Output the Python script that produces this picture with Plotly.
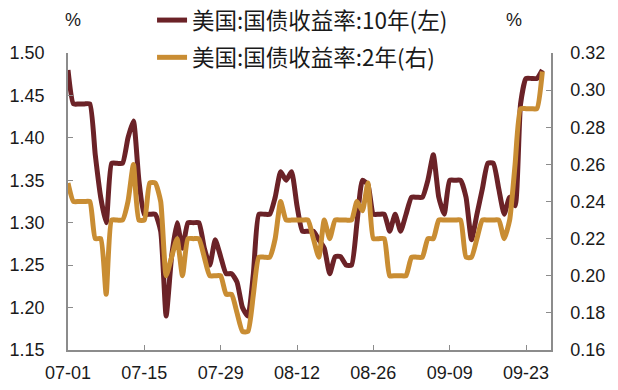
import pandas as pd
import plotly.graph_objects as go

start_date = "2021-07-01"
yield_10y = [1.48, 1.44, 1.44, 1.44, 1.44, 1.38, 1.33, 1.30, 1.37, 1.37,
             1.37, 1.40, 1.42, 1.35, 1.31, 1.31, 1.31, 1.29, 1.19, 1.26,
             1.30, 1.27, 1.30, 1.30, 1.30, 1.27, 1.25, 1.28, 1.26, 1.24,
             1.24, 1.23, 1.20, 1.19, 1.24, 1.31, 1.31, 1.31, 1.33, 1.36,
             1.35, 1.36, 1.32, 1.29, 1.29, 1.29, 1.28, 1.27, 1.24, 1.26,
             1.26, 1.25, 1.25, 1.30, 1.35, 1.345, 1.31, 1.31, 1.31, 1.29,
             1.31, 1.29, 1.31, 1.33, 1.33, 1.33, 1.35, 1.38, 1.33, 1.31,
             1.35, 1.35, 1.35, 1.33, 1.28, 1.31, 1.34, 1.37, 1.37, 1.34,
             1.31, 1.33, 1.32, 1.44, 1.47, 1.47, 1.47, 1.48]
yield_2y = [0.25, 0.24, 0.24, 0.24, 0.24, 0.22, 0.22, 0.19, 0.23, 0.23,
            0.23, 0.24, 0.26, 0.23, 0.23, 0.25, 0.25, 0.24, 0.20, 0.21,
            0.22, 0.20, 0.22, 0.22, 0.22, 0.21, 0.20, 0.20, 0.20, 0.19,
            0.19, 0.18, 0.17, 0.17, 0.19, 0.21, 0.21, 0.21, 0.22, 0.24,
            0.23, 0.23, 0.23, 0.23, 0.23, 0.22, 0.21, 0.23, 0.22, 0.23,
            0.23, 0.23, 0.23, 0.24, 0.235, 0.25, 0.22, 0.22, 0.22, 0.20,
            0.20, 0.20, 0.20, 0.21, 0.21, 0.21, 0.22, 0.22, 0.23, 0.23,
            0.23, 0.23, 0.23, 0.21, 0.21, 0.22, 0.23, 0.23, 0.23, 0.23,
            0.22, 0.23, 0.26, 0.29, 0.29, 0.29, 0.29, 0.31]
tick_dates = ["2021-07-01", "2021-07-15", "2021-07-29", "2021-08-12",
              "2021-08-26", "2021-09-09", "2021-09-23"]
tick_labels = ["07-01", "07-15", "07-29", "08-12", "08-26", "09-09", "09-23"]
left_ticks = [1.15, 1.20, 1.25, 1.30, 1.35, 1.40, 1.45, 1.50]
right_ticks = [0.16, 0.18, 0.20, 0.22, 0.24, 0.26, 0.28, 0.30, 0.32]
name_10y = "美国:国债收益率:10年(左)"
name_2y = "美国:国债收益率:2年(右)"

dates = pd.date_range(start_date, periods=len(yield_10y), freq="D")

FONT = "Liberation Sans, Arial, Noto Sans CJK SC, sans-serif"
AXIS_COLOR = "#8c8c8c"

fig = go.Figure()
fig.add_trace(go.Scatter(
    x=dates, y=yield_10y, name=name_10y, mode="lines",
    line=dict(color="#6B2227", width=5, shape="spline", smoothing=0.5),
    legendgroup="a", yaxis="y"))
fig.add_trace(go.Scatter(
    x=dates, y=yield_2y, name=name_2y, mode="lines",
    line=dict(color="#C98D33", width=5, shape="spline", smoothing=0.5),
    legendgroup="b", yaxis="y2"))

fig.update_layout(
    width=618, height=390,
    margin=dict(l=68, r=67, t=53, b=40, autoexpand=False),
    paper_bgcolor="white", plot_bgcolor="white",
    font=dict(family=FONT, size=18, color="#1a1a1a"),
    showlegend=True,
    legend=dict(
        x=0.174, y=1.182, xanchor="left", yanchor="top",
        bgcolor="rgba(0,0,0,0)", traceorder="grouped", tracegroupgap=5,
        font=dict(family="Noto Sans CJK SC, Liberation Sans, sans-serif", size=22.5, color="#1a1a1a"),
    ),
    xaxis=dict(
        type="date",
        range=["2021-07-01", "2021-09-27 14:00"],
        tickvals=tick_dates, ticktext=tick_labels,
        showline=True, linecolor=AXIS_COLOR, linewidth=1.5,
        ticks="inside", ticklen=5, tickcolor=AXIS_COLOR,
        showgrid=False, zeroline=False, automargin=False,
        ticklabelstandoff=6,
    ),
    yaxis=dict(
        range=[1.15, 1.50], tickvals=left_ticks, tickformat=".2f",
        showline=True, linecolor=AXIS_COLOR, linewidth=1.5,
        ticks="inside", ticklen=5, tickcolor=AXIS_COLOR,
        showgrid=False, zeroline=False, automargin=False,
        ticklabelstandoff=18,
    ),
    yaxis2=dict(
        range=[0.16, 0.32], tickvals=right_ticks, tickformat=".2f",
        overlaying="y", side="right",
        showline=True, linecolor=AXIS_COLOR, linewidth=1.5,
        ticks="inside", ticklen=5, tickcolor=AXIS_COLOR,
        showgrid=False, zeroline=False, automargin=False,
        ticklabelstandoff=14,
    ),
    annotations=[
        dict(text="%", xref="paper", yref="paper", x=0.0104, y=1.111,
             showarrow=False, xanchor="center", yanchor="middle",
             font=dict(size=18)),
        dict(text="%", xref="paper", yref="paper", x=0.923, y=1.111,
             showarrow=False, xanchor="center", yanchor="middle",
             font=dict(size=18)),
    ],
)

fig.write_html("out.html", config={"displayModeBar": False},
               post_script="document.body.style.margin='0';document.body.style.overflow='hidden';")
